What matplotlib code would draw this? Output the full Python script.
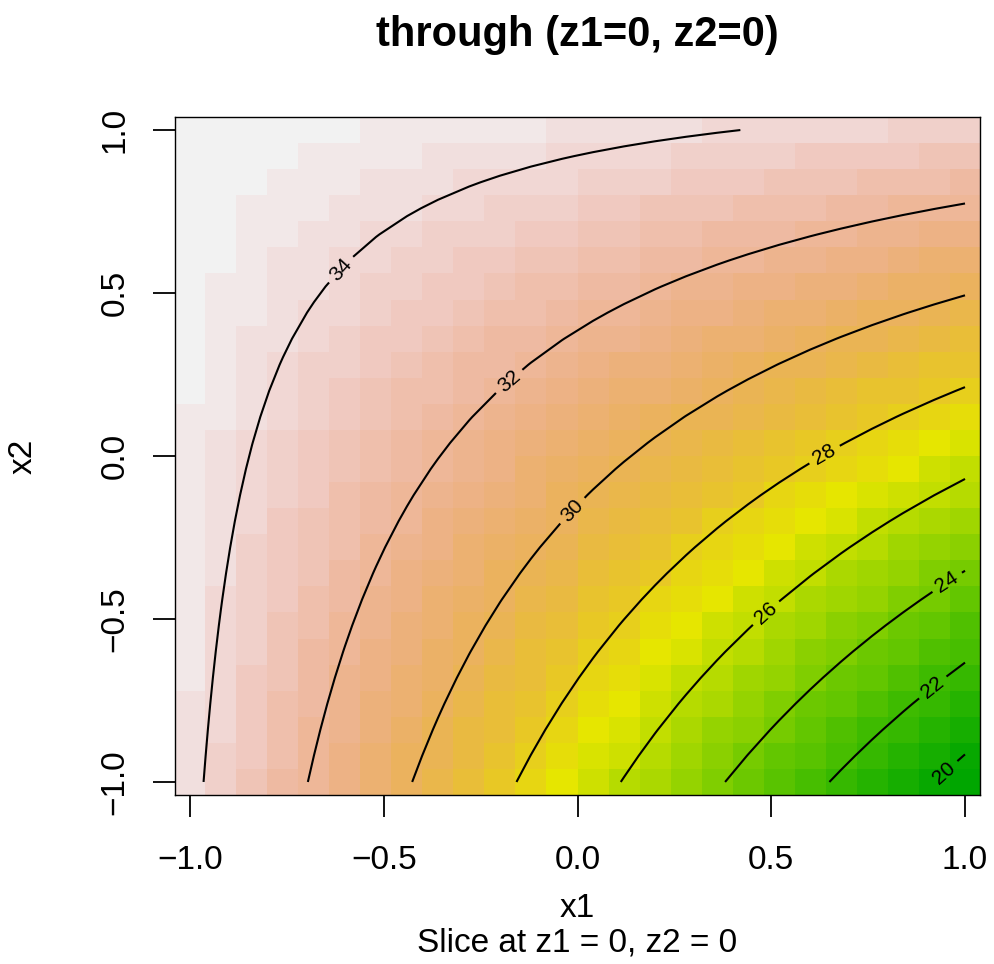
import colorsys
import numpy as np
import matplotlib
matplotlib.use("Agg")
import matplotlib.pyplot as plt
from matplotlib.colors import ListedColormap

# ---- data: fitted response-surface coefficients (slice at z1=0, z2=0) ----
coef_names = ["intercept", "x1", "x2", "x1:x2"]
coef_values = [30.56, -4.06, 3.73, 3.37]
grid_n = 26
x_range = [-1.0, 1.0]
contour_levels = [20, 22, 24, 26, 28, 30, 32, 34]
label_spots = [(-0.57, 0.53), (-0.17, 0.22), (-0.02, -0.16), (0.63, 0.02),
               (0.5, -0.5), (0.95, -0.38), (0.91, -0.70), (0.93, -0.95)]
x_ticks = [-1.0, -0.5, 0.0, 0.5, 1.0]
x_tick_labels = ["\u22121.0", "\u22120.5", "0.0", "0.5", "1.0"]
title = "through (z1=0, z2=0)"
subtitle = "Slice at z1 = 0, z2 = 0"

# R terrain.colors(50)
def terrain_colors(n):
    k = n // 2
    cols = []
    h1 = np.linspace(4/12, 2/12, k); s1 = np.linspace(1, 1, k); v1 = np.linspace(0.65, 0.9, k)
    for h, s, v in zip(h1, s1, v1):
        cols.append(colorsys.hsv_to_rgb(h, s, v))
    m = n - k + 1
    h2 = np.linspace(2/12, 0, m)[1:]; s2 = np.linspace(1, 0, m)[1:]; v2 = np.linspace(0.9, 0.95, m)[1:]
    for h, s, v in zip(h2, s2, v2):
        cols.append(colorsys.hsv_to_rgb(h, s, v))
    return cols

cmap = ListedColormap(terrain_colors(50))

x1 = np.linspace(x_range[0], x_range[1], grid_n)
x2 = np.linspace(x_range[0], x_range[1], grid_n)
X1, X2 = np.meshgrid(x1, x2)
b0, b1, b2, b12 = coef_values
Z = b0 + b1 * X1 + b2 * X2 + b12 * X1 * X2

plt.rcParams['font.family'] = ['Liberation Sans', 'DejaVu Sans']
fig = plt.figure(figsize=(9.94, 9.64), dpi=100)
ax = fig.add_axes([175/994, 1 - 795/964, 805/994, 678/964])

ax.pcolormesh(X1, X2, Z, cmap=cmap, shading='nearest', vmin=Z.min(), vmax=Z.max())
cs = ax.contour(X1, X2, Z, levels=contour_levels, colors='black', linewidths=1.5)
ax.clabel(cs, fmt='%d', fontsize=15, inline=True, inline_spacing=6, manual=label_spots)

ax.set_xlim(-1.0387, 1.0387)
ax.set_ylim(-1.04, 1.04)
ax.set_xticks(x_ticks)
ax.set_xticklabels(x_tick_labels)
ax.set_yticks(x_ticks)
ax.set_yticklabels(x_tick_labels, rotation=90, va='center')
ax.tick_params(axis='x', direction='out', length=16, width=1.3, labelsize=24, pad=20)
ax.tick_params(axis='y', direction='out', length=16, width=1.3, labelsize=24, pad=16)
for s in ax.spines.values():
    s.set_linewidth(1.0)

ax.set_xlabel("x1", fontsize=24, labelpad=12)
ax.set_ylabel("x2", fontsize=24, labelpad=44)
fig.text(577/994, 1 - 943/964, subtitle, ha='center', va='center', fontsize=24)
fig.text(577/994, 1 - 35/964, title, ha='center', va='center', fontsize=30, fontweight='bold')

fig.savefig("out.png", dpi=100)
